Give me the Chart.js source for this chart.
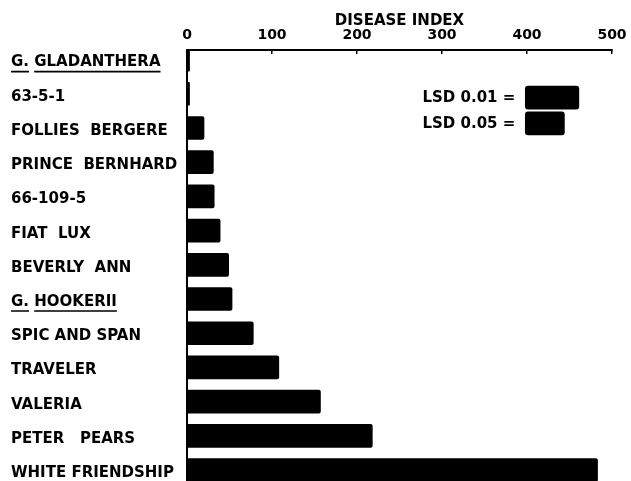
<!DOCTYPE html>
<html><head><meta charset="utf-8">
<script src="https://cdn.jsdelivr.net/npm/chart.js@4/dist/chart.umd.min.js"></script>
<style>html,body{margin:0;padding:0;background:#fff;overflow:hidden;}</style>
</head><body>
<canvas id="c" width="631" height="481"></canvas>
<script>
// ---- data ----
const categories = ['G. GLADANTHERA', '63-5-1', 'FOLLIES  BERGERE', 'PRINCE  BERNHARD', '66-109-5', 'FIAT  LUX', 'BEVERLY  ANN', 'G. HOOKERII', 'SPIC AND SPAN', 'TRAVELER', 'VALERIA', 'PETER   PEARS', 'WHITE FRIENDSHIP'];
const diseaseIndex = [3, 3, 20, 31, 32, 39, 49, 53, 78, 108, 157, 218, 483];
const xTicks = [0, 100, 200, 300, 400, 500];
const lsdLabels = ['LSD 0.01 =', 'LSD 0.05 ='];
const lsdValues = [63, 46];

const FONT = "'DejaVu Sans'";
Chart.defaults.font.family = FONT;
Chart.defaults.font.weight = 'bold';
Chart.defaults.font.size = 15;
Chart.defaults.color = '#000';

const LSD_START = 398, LSD_ROW = 1.11, LSD_STEP = 0.755;

const extras = {
  id: 'extras',
  afterDraw(chart) {
    const ctx = chart.ctx;
    const ys = chart.scales.y;
    ctx.save();
    ctx.font = 'bold 15px ' + FONT;
    ctx.strokeStyle = '#000';
    ctx.lineWidth = 1.6;
    categories.forEach((c, i) => {
      if (c.startsWith('G. ')) {
        const y = ys.getPixelForValue(i) + 3 + 9;
        const x0 = ys.left;
        const wG = ctx.measureText('G.').width;
        const wGs = ctx.measureText('G. ').width;
        const wAll = ctx.measureText(c).width;
        ctx.beginPath();
        ctx.moveTo(x0, y); ctx.lineTo(x0 + wG, y);
        ctx.moveTo(x0 + wGs, y); ctx.lineTo(x0 + wAll, y);
        ctx.stroke();
      }
    });
    const meta = chart.getDatasetMeta(1);
    ctx.fillStyle = '#000';
    ctx.textAlign = 'right';
    ctx.textBaseline = 'middle';
    meta.data.forEach((el, i) => {
      ctx.fillText(lsdLabels[i], el.base - 10, el.y + 1);
    });
    ctx.restore();
  }
};

function zeroPad(s) { s.paddingTop = 0; s.paddingBottom = 0; s.paddingLeft = 0; s.paddingRight = 0; }

new Chart(document.getElementById('c'), {
  type: 'bar',
  data: {
    datasets: [
      {
        data: diseaseIndex.map((v, i) => ({ x: v, y: i })),
        backgroundColor: '#000', barThickness: 23, borderRadius: 2, borderSkipped: 'start', grouped: false
      },
      {
        data: lsdValues.map((v, i) => ({ x: [LSD_START, LSD_START + v], y: LSD_ROW + i * LSD_STEP })),
        backgroundColor: '#000', barThickness: 23, borderRadius: 3, borderSkipped: false, grouped: false
      }
    ]
  },
  options: {
    indexAxis: 'y',
    responsive: false,
    animation: false,
    layout: { padding: { left: 11, right: 19, top: 0, bottom: 0 } },
    plugins: { legend: { display: false }, tooltip: { enabled: false } },
    scales: {
      x: {
        type: 'linear', position: 'top', min: 0, max: 500,
        afterBuildTicks: s => { s.ticks = xTicks.map(v => ({ value: v })); },
        ticks: { padding: 10, font: { size: 14 }, color: '#000' },
        grid: { display: true, drawOnChartArea: false, tickLength: -4, color: '#000', lineWidth: 1.5 },
        border: { display: true, color: '#000', width: 2 },
        title: { display: true, text: 'DISEASE INDEX', color: '#000', font: { size: 15 }, padding: { top: 12, bottom: 0 } },
        afterFit: s => { s.height = 50; zeroPad(s); }
      },
      y: {
        type: 'linear', reverse: true, min: -0.28, max: 12.32, offset: false,
        afterBuildTicks: s => { s.ticks = categories.map((c, i) => ({ value: i })); },
        ticks: { callback: v => categories[v] ?? '', crossAlign: 'far', labelOffset: 3, autoSkip: false, padding: 0, color: '#000' },
        grid: { display: false, offset: false },
        border: { display: true, color: '#000', width: 2 },
        afterFit: s => { s.width = 176; zeroPad(s); }
      }
    }
  },
  plugins: [extras]
});
</script>
</body></html>
